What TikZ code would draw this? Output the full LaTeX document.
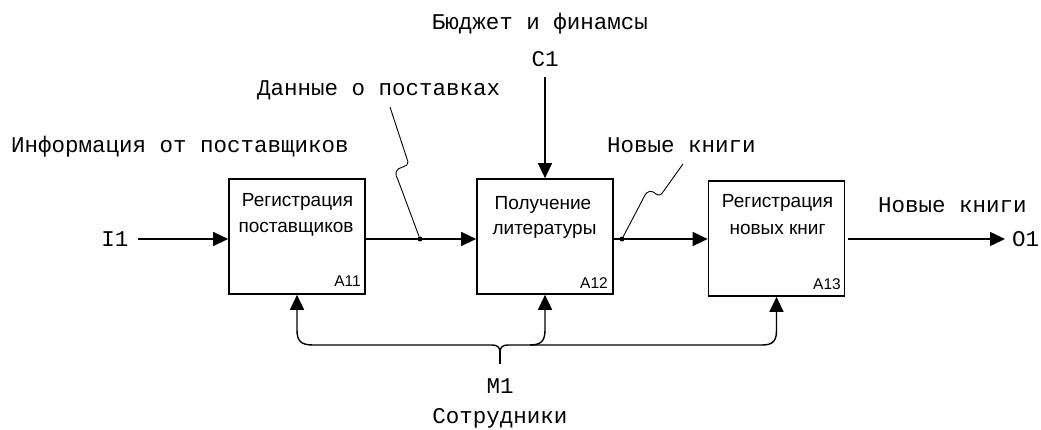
\documentclass[tikz,border=0pt]{standalone}
\usepackage{fontspec}
\setmainfont{Liberation Sans}
\newfontfamily\monofont{Liberation Mono}
\usetikzlibrary{arrows.meta}
\begin{document}
\begin{tikzpicture}[x=1pt,y=-1pt,
  box/.style={draw, line width=1.7pt, minimum width=136pt, minimum height=115pt, inner sep=0pt},
  boxtext/.style={font=\fontsize{19}{25}\selectfont, inner sep=0pt, anchor=base},
  boxnum/.style={font=\fontsize{15.5}{15.5}\selectfont, inner sep=0pt, anchor=base east},
  lbl/.style={font=\monofont\fontsize{22.5}{24}\selectfont, inner sep=0pt},
  conn/.style={line width=1.4pt},
  arr/.style={conn, -{Triangle[length=15pt,width=14pt]}},
  squig/.style={line width=0.9pt},
  jdot/.style={circle, fill, inner sep=0pt, minimum size=5pt},
]
\useasboundingbox (0,0) rectangle (1041,430);

% boxes
\node[box] (a11) at (297,236.5) {};
\node[box] (a12) at (545,236.5) {};
\node[box] (a13) at (776.5,238.5) {};

\node[boxtext] (a11l1) at (297.5,207) {Регистрация};
\node[boxtext] (a11l2) at (296,233) {поставщиков};
\node[boxnum] (a11n) at (361,287) {A11};

\node[boxtext] (a12l1) at (543,210) {Получение};
\node[boxtext] (a12l2) at (544.5,235) {литературы};
\node[boxnum] (a12n) at (608,288) {A12};

\node[boxtext] (a13l1) at (777.5,208) {Регистрация};
\node[boxtext] (a13l2) at (777.5,235) {новых книг};
\node[boxnum] (a13n) at (841,290) {A13};

% labels
\node[lbl, anchor=base] (budget) at (540,30) {Бюджет и финамсы};
\node[lbl, anchor=base] (c1) at (545,67) {C1};
\node[lbl, anchor=base west] (data) at (257,96) {Данные о поставках};
\node[lbl, anchor=base west] (info) at (11,153) {Информация от поставщиков};
\node[lbl, anchor=base west] (nk1) at (607,153) {Новые книги};
\node[lbl, anchor=base west] (nk2) at (878,213) {Новые книги};
\node[lbl, anchor=base] (i1) at (115,247) {I1};
\node[lbl, anchor=base west] (o1) at (1012,247) {O1};
\node[lbl, anchor=base] (m1) at (500,393) {M1};
\node[lbl, anchor=base] (staff) at (500,423) {Сотрудники};

% helper coordinates
\coordinate (ioy) at (0,239);
\coordinate (mj) at (500,352);
\coordinate (s1) at (390,107);
\coordinate (s2) at (683,164);

% junction dots
\node[jdot] (d1) at (420,239) {};
\node[jdot] (d2) at (622,239) {};

% input / output arrows
\draw[arr, shorten <=9pt] (i1.east |- ioy) -- (a11.west |- ioy);
\draw[arr] (a11.east |- ioy) -- (a12.west |- ioy);
\draw[arr] (a12.east |- ioy) -- (a13.west |- ioy);
\draw[arr, shorten <=3pt, shorten >=7pt] (a13.east |- ioy) -- (o1.west |- ioy);

% control
\draw[arr, shorten <=10pt] (c1.south) -- (a12.north);

% mechanism
\draw[conn, shorten <=14pt] (m1.north) -- (mj);
\draw[arr] (mj) .. controls (500,347) and (497,345) .. (492,345) -- (313,345)
  .. controls (301,345) and (297,341) .. (297,330) -- (a11.south);
\draw[arr] (mj) .. controls (500,347) and (503,345) .. (508,345) -- (762,345)
  .. controls (773,345) and (776.5,341) .. (776.5,330) -- (a13.south);
\draw[arr] (530,345) .. controls (541,345) and (545,341) .. (545,330) -- (a12.south);

% label squiggles
\draw[squig] (s1) -- (408,162) .. controls (409,168) and (397,166) .. (396,172)
  .. controls (395,175) and (397,177) .. (398,180) -- (d1);
\draw[squig] (d2) -- (644,197) .. controls (647,190) and (652,190) .. (656,194)
  .. controls (659,196) and (661,195) .. (663,192) -- (s2);
\end{tikzpicture}
\end{document}
